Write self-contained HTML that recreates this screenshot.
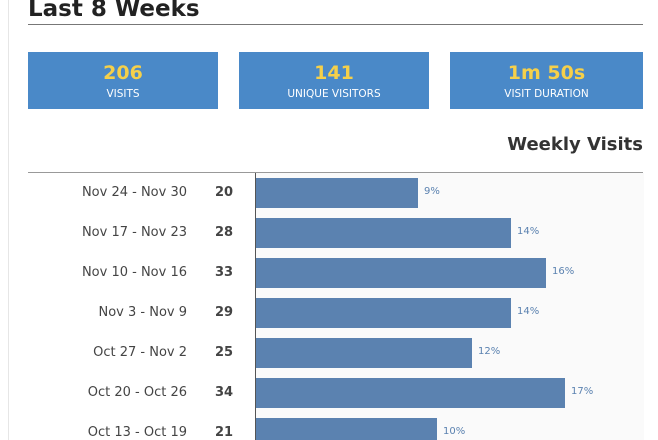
<!DOCTYPE html>
<html><head><style>
html,body{margin:0;width:658px;height:440px;overflow:hidden}
body{background:#fff;font-family:"DejaVu Sans","Liberation Sans",sans-serif;color:#333;position:relative}
.vl{position:absolute;left:8px;top:0;width:1px;height:440px;background:#e6e6e6}
h1{position:absolute;left:28px;top:-4px;margin:0;font-size:23px;font-weight:bold;color:#222}
.hr{position:absolute;left:28px;width:615px;height:1px;background:#777}
.box{position:absolute;top:52px;height:57px;background:#4a89c8;color:#fff;text-align:center}
.box b{display:block;color:#f5d04a;font-size:19px;margin-top:9px;line-height:24px}
.box span{display:block;font-size:10.5px;margin-top:3px}
h2{position:absolute;right:15px;top:134px;margin:0;font-size:18px;font-weight:bold;color:#333}
.area{position:absolute;left:255px;top:173px;width:388px;height:267px;background:#fafafa;border-left:1px solid #555}
.row{position:absolute;left:0;width:658px;height:40px}
.d{position:absolute;right:471px;top:12px;font-size:13px;color:#444;white-space:nowrap}
.n{position:absolute;left:215px;top:12px;font-size:13px;font-weight:bold;color:#444}
.bar{position:absolute;left:256px;top:5px;height:30px;background:#5b82b0}
.p{position:absolute;top:13px;font-size:10px;color:#5b82b0}
</style></head><body>
<div class="vl"></div>
<h1>Last 8 Weeks</h1>
<div class="hr" style="top:24px"></div>
<div class="box" style="left:28px;width:190px"><b>206</b><span>VISITS</span></div>
<div class="box" style="left:239px;width:190px"><b>141</b><span>UNIQUE VISITORS</span></div>
<div class="box" style="left:450px;width:193px"><b>1m 50s</b><span>VISIT DURATION</span></div>
<h2>Weekly Visits</h2>
<div class="hr" style="top:172px;background:#999"></div>
<div class="area"></div>
<div class="row" style="top:173px"><div class="d">Nov 24 - Nov 30</div><div class="n">20</div><div class="bar" style="width:162px"></div><div class="p" style="left:424px">9%</div></div>
<div class="row" style="top:213px"><div class="d">Nov 17 - Nov 23</div><div class="n">28</div><div class="bar" style="width:255px"></div><div class="p" style="left:517px">14%</div></div>
<div class="row" style="top:253px"><div class="d">Nov 10 - Nov 16</div><div class="n">33</div><div class="bar" style="width:290px"></div><div class="p" style="left:552px">16%</div></div>
<div class="row" style="top:293px"><div class="d">Nov 3 - Nov 9</div><div class="n">29</div><div class="bar" style="width:255px"></div><div class="p" style="left:517px">14%</div></div>
<div class="row" style="top:333px"><div class="d">Oct 27 - Nov 2</div><div class="n">25</div><div class="bar" style="width:216px"></div><div class="p" style="left:478px">12%</div></div>
<div class="row" style="top:373px"><div class="d">Oct 20 - Oct 26</div><div class="n">34</div><div class="bar" style="width:309px"></div><div class="p" style="left:571px">17%</div></div>
<div class="row" style="top:413px;height:27px;overflow:hidden"><div class="d">Oct 13 - Oct 19</div><div class="n">21</div><div class="bar" style="width:181px"></div><div class="p" style="left:443px">10%</div></div>
</body></html>
